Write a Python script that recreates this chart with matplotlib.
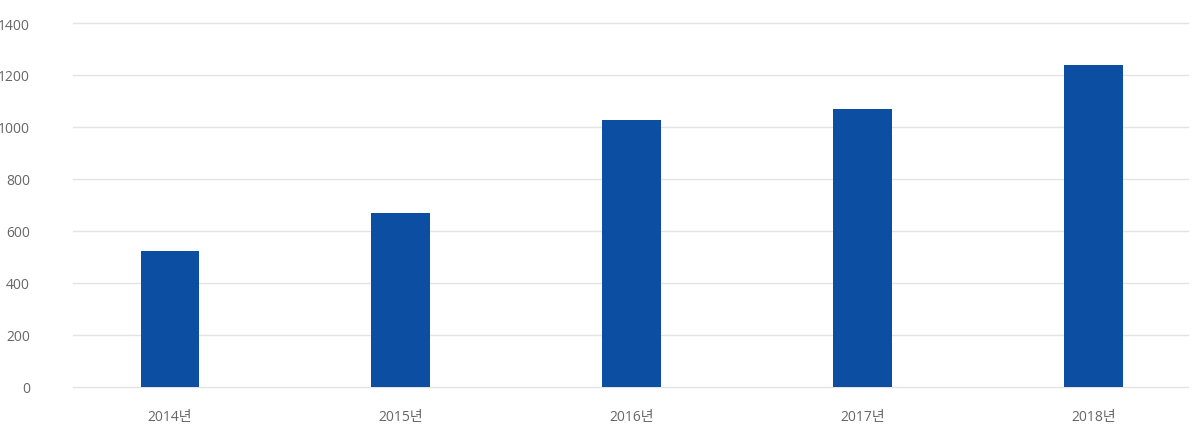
import numpy as np
import matplotlib as mpl
import matplotlib.pyplot as plt

mpl.rcParams['font.family'] = ['Open Sans', 'Noto Sans CJK KR', 'DejaVu Sans']

years = ['2014년', '2015년', '2016년', '2017년', '2018년']
values = [521, 667, 1027, 1067, 1237]
y_ticks = [0, 200, 400, 600, 800, 1000, 1200, 1400]

bar_color = '#0c4ea2'
grid_color = '#e3e3e3'
text_color = '#666666'

fig = plt.figure(figsize=(12, 4.39), dpi=100)
ax = fig.add_axes([73 / 1200, 1 - 387.5 / 439, (1188 - 73) / 1200, (387.5 - 24) / 439])

x = np.arange(len(years))
ax.bar(x, values, width=0.255, color=bar_color, zorder=3)

ax.set_ylim(0, 1400)
ax.set_xlim(-0.42, len(years) - 1 + 0.41)
ax.set_yticks(y_ticks)
ax.set_yticklabels([str(t) for t in y_ticks])
ax.set_xticks(x)
ax.set_xticklabels(years)

ax.yaxis.grid(True, color=grid_color, linewidth=1, zorder=0)
for gl in ax.get_ygridlines():
    gl.set_clip_on(False)
ax.set_axisbelow(True)
for s in ax.spines.values():
    s.set_visible(False)

ax.tick_params(axis='y', length=0, pad=31, labelsize=10, labelcolor=text_color)
ax.tick_params(axis='x', length=0, pad=16, labelsize=10, labelcolor=text_color)

fig.savefig('out.png', dpi=100)
